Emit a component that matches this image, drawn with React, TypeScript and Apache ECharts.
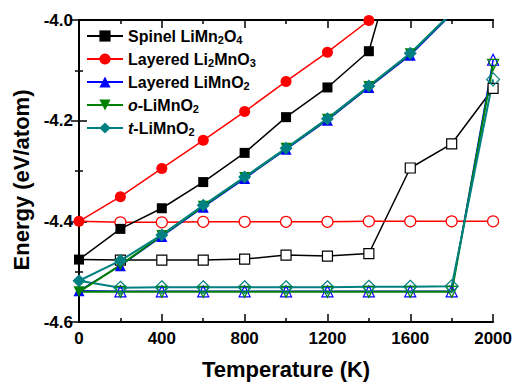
import React, { useEffect, useRef } from "react";
import * as echarts from "echarts";

const temps = [0, 200, 400, 600, 800, 1000, 1200, 1400, 1600, 1800, 2000];

const spinelFilled = [-4.476, -4.415, -4.374, -4.322, -4.264, -4.193, -4.134, -4.062, -3.774, null, null];
const spinelOpen = [-4.476, -4.477, -4.477, -4.477, -4.475, -4.467, -4.469, -4.464, -4.294, -4.246, -4.136];
const li2Filled = [-4.4, -4.351, -4.295, -4.239, -4.182, -4.122, -4.064, -4.001, -3.94, null, null];
const li2Open = [-4.4, -4.402, -4.402, -4.401, -4.401, -4.401, -4.401, -4.4, -4.4, -4.4, -4.4];
const layeredFilled = [-4.538, -4.488, -4.43, -4.372, -4.315, -4.257, -4.199, -4.134, -4.07, -3.988, null];
const layeredOpen = [-4.538, -4.539, -4.539, -4.539, -4.539, -4.539, -4.539, -4.539, -4.539, -4.539, -4.079];
const oFilled = [-4.54, -4.487, -4.428, -4.37, -4.313, -4.255, -4.197, -4.132, -4.067, -3.986, null];
const oOpen = [-4.54, -4.54, -4.54, -4.54, -4.54, -4.54, -4.54, -4.54, -4.54, -4.54, -4.089];
const tFilled = [-4.518, -4.478, -4.427, -4.368, -4.312, -4.255, -4.196, -4.131, -4.066, -3.986, null];
const tOpen = [-4.518, -4.532, -4.531, -4.531, -4.531, -4.531, -4.531, -4.53, -4.53, -4.529, -4.118];

const names = ["Spinel LiMn2O4", "Layered Li2MnO3", "Layered LiMnO2", "o-LiMnO2", "t-LiMnO2"];
const legendRich: Record<string, string> = {
  "Spinel LiMn2O4": "Spinel LiMn{s|2}O{s|4}",
  "Layered Li2MnO3": "Layered Li{s|2}MnO{s|3}",
  "Layered LiMnO2": "Layered LiMnO{s|2}",
  "o-LiMnO2": "{i|o}-LiMnO{s|2}",
  "t-LiMnO2": "{i|t}-LiMnO{s|2}",
};

const FONT = "'Liberation Sans', Arial, sans-serif";

function pairs(arr: (number | null)[]) {
  const out: any[] = [];
  arr.forEach((v, i) => {
    if (v !== null) out.push([temps[i], v]);
  });
  return out;
}

function openPairs(arr: (number | null)[]) {
  return pairs(arr).map((p, i) => (i === 0 ? { value: p, symbol: "none" } : p));
}

function filledSeries(name: string, arr: (number | null)[], color: string, symbol: string, size: number, rotate = 0, lw = 1.5) {
  return {
    name,
    type: "line",
    data: pairs(arr),
    symbol,
    symbolSize: size,
    symbolRotate: rotate,
    z: 5,
    lineStyle: { color, width: lw },
    itemStyle: { color, borderWidth: 0 },
  };
}

function openSeries(name: string, arr: (number | null)[], color: string, symbol: string, size: number, fill: string, rotate = 0, lw = 1.5) {
  return {
    name,
    type: "line",
    data: openPairs(arr),
    symbol,
    symbolSize: size,
    symbolRotate: rotate,
    z: 3,
    lineStyle: { color, width: lw },
    itemStyle: { color: fill, borderColor: color, borderWidth: 1.2 },
  };
}

export default function App() {
  const ref = useRef<HTMLDivElement>(null);
  useEffect(() => {
    if (!ref.current) return;
    const chart = echarts.init(ref.current, null, { renderer: "svg" });
    const axisLabel = { color: "#000", fontSize: 17, fontWeight: "bold", fontFamily: FONT };
    const axisLine = { show: true, lineStyle: { color: "#000", width: 2 } };
    const tick = { show: true, inside: true, length: 8, lineStyle: { color: "#000", width: 1.5 } };
    const minor = { show: true, splitNumber: 2, length: 4, lineStyle: { color: "#000", width: 1.5 } };
    chart.setOption({
      animation: false,
      backgroundColor: "#fff",
      grid: { left: 79, right: 20, top: 20, bottom: 60 },
      legend: {
        data: names,
        orient: "vertical",
        left: 86,
        top: 27,
        padding: 0,
        itemGap: 5,
        itemWidth: 36,
        itemHeight: 14,
        selectedMode: false,
        formatter: (n: string) => legendRich[n] || n,
        textStyle: {
          color: "#000",
          fontSize: 16,
          lineHeight: 18,
          fontWeight: "bold",
          fontFamily: FONT,
          rich: {
            s: { fontSize: 11, lineHeight: 8, verticalAlign: "bottom", fontWeight: "bold", fontFamily: FONT, color: "#000" },
            i: { fontSize: 16, lineHeight: 18, fontWeight: "bold", fontStyle: "italic", fontFamily: FONT, color: "#000" },
          },
        },
      },
      xAxis: [
        {
          type: "value",
          min: 0,
          max: 2000,
          interval: 400,
          position: "bottom",
          axisLine,
          axisTick: tick,
          minorTick: minor,
          splitLine: { show: false },
          axisLabel: { ...axisLabel, margin: 8, formatter: (v: number) => String(Math.round(v)) },
          name: "Temperature (K)",
          nameLocation: "middle",
          nameGap: 36,
          nameTextStyle: { color: "#000", fontSize: 22, fontWeight: "bold", fontFamily: FONT },
        },
        {
          type: "value",
          min: 0,
          max: 2000,
          interval: 400,
          position: "top",
          axisLine,
          axisTick: tick,
          minorTick: minor,
          splitLine: { show: false },
          axisLabel: { show: false },
        },
      ],
      yAxis: [
        {
          type: "value",
          min: -4.6,
          max: -4.0,
          interval: 0.2,
          position: "left",
          axisLine,
          axisTick: tick,
          minorTick: minor,
          splitLine: { show: false },
          axisLabel: { ...axisLabel, margin: 6, formatter: (v: number) => v.toFixed(1) },
          name: "Energy (eV/atom)",
          nameLocation: "middle",
          nameGap: 45,
          nameTextStyle: { color: "#000", fontSize: 22, fontWeight: "bold", fontFamily: FONT, padding: [0, 18, 0, 0] },
        },
        {
          type: "value",
          min: -4.6,
          max: -4.0,
          interval: 0.2,
          position: "right",
          axisLine,
          axisTick: tick,
          minorTick: minor,
          splitLine: { show: false },
          axisLabel: { show: false },
        },
      ],
      series: [
        openSeries("Spinel LiMn2O4 (open)", spinelOpen, "#000000", "rect", 10, "#ffffff"),
        openSeries("Layered Li2MnO3 (open)", li2Open, "#ff0000", "circle", 11, "#ffffff"),
        openSeries("Layered LiMnO2 (open)", layeredOpen, "#0000ff", "triangle", 11, "rgba(0,0,0,0)", 0, 1.5),
        openSeries("o-LiMnO2 (open)", oOpen, "#008000", "triangle", 11, "rgba(0,0,0,0)", 180, 2),
        openSeries("t-LiMnO2 (open)", tOpen, "#008080", "diamond", 13, "rgba(0,0,0,0)", 0, 2),
        filledSeries("Spinel LiMn2O4", spinelFilled, "#000000", "rect", 10),
        filledSeries("Layered Li2MnO3", li2Filled, "#ff0000", "circle", 11),
        filledSeries("Layered LiMnO2", layeredFilled, "#0000ff", "triangle", 11),
        filledSeries("o-LiMnO2", oFilled, "#008000", "triangle", 11, 180, 2),
        filledSeries("t-LiMnO2", tFilled, "#008080", "diamond", 13, 0, 2),
      ],
    });
    return () => chart.dispose();
  }, []);
  return <div ref={ref} style={{ position: "fixed", left: 0, top: 0, width: 515, height: 385 }} />;
}
